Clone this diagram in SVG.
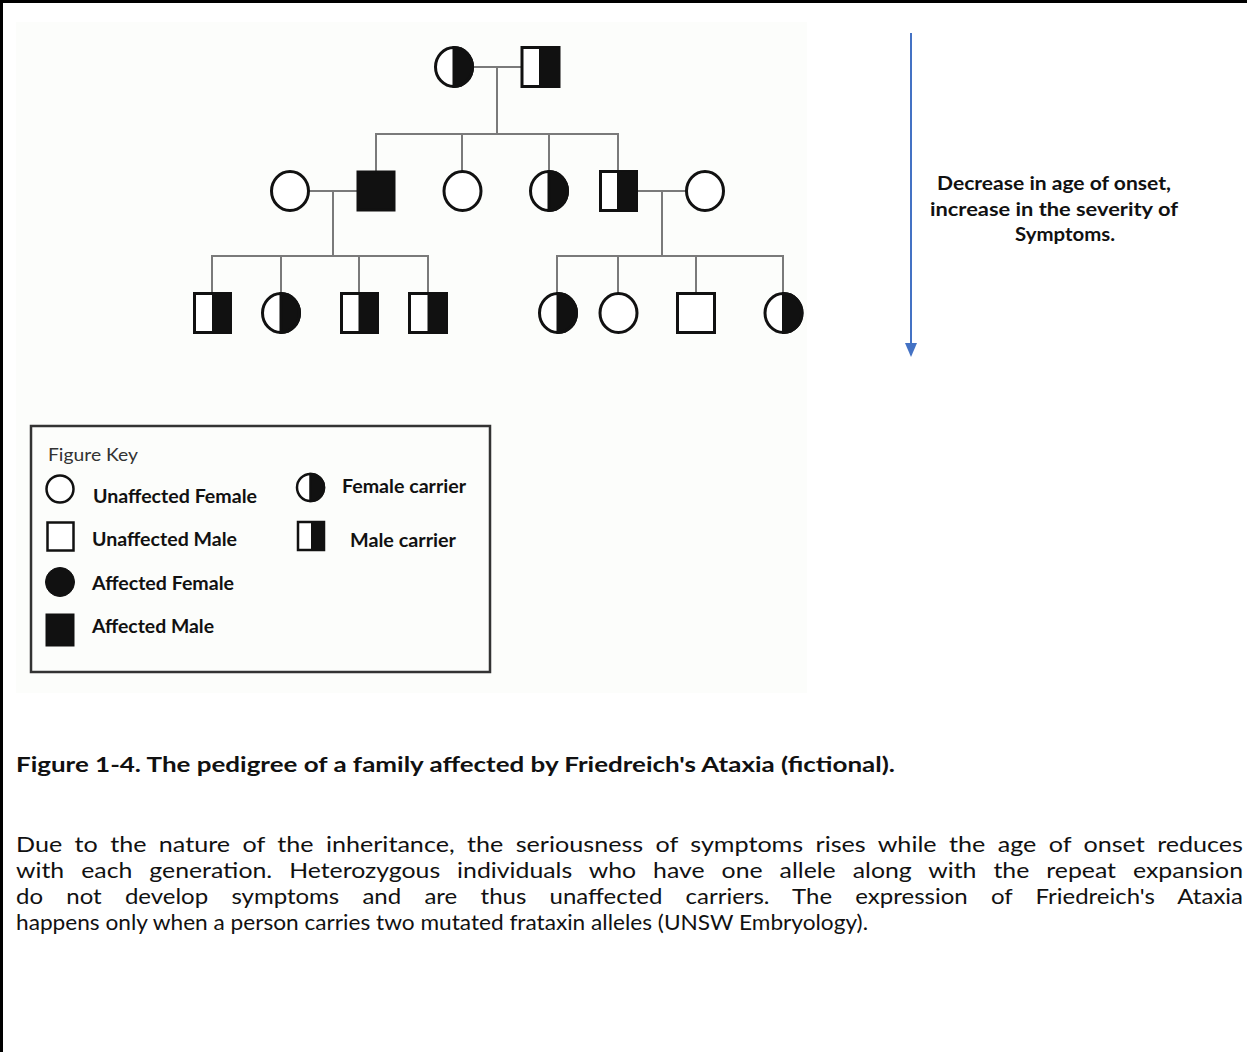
<svg xmlns="http://www.w3.org/2000/svg" width="1247" height="1052" viewBox="0 0 1247 1052">
<style>
.ln{stroke:#7a7a7a;stroke-width:2;fill:none}
.sh{stroke:#111;stroke-width:3;fill:#fff}
.ks{stroke:#111;stroke-width:2.5;fill:#fff}
.blk{fill:#111;stroke:#111}
.kt{font-family:Lato,"Liberation Sans",sans-serif;font-weight:bold;font-size:18px;fill:#111}
.cap{font-family:Lato,"Liberation Sans",sans-serif;font-size:21px;fill:#111}
</style>
<rect x="0" y="0" width="1247" height="1052" fill="#fff"/>
<line x1="0" y1="1.5" x2="1247" y2="1.5" stroke="#000" stroke-width="3"/>
<line x1="1.5" y1="0" x2="1.5" y2="1052" stroke="#000" stroke-width="3"/>
<rect x="16" y="22" width="791" height="671" fill="#fcfdfb"/>

<g id="connectors">
<polyline class="ln" points="473,67 522,67"/>
<polyline class="ln" points="497,67 497,134"/>
<polyline class="ln" points="376,171 376,134 618,134 618,171"/>
<polyline class="ln" points="462,134 462,171"/>
<polyline class="ln" points="549,134 549,171"/>
<polyline class="ln" points="309,191 357,191"/>
<polyline class="ln" points="637,191 686,191"/>
<polyline class="ln" points="333,191 333,256"/>
<polyline class="ln" points="662,191 662,256"/>
<polyline class="ln" points="212,293 212,256 428,256 428,293"/>
<polyline class="ln" points="281,256 281,293"/>
<polyline class="ln" points="359,256 359,293"/>
<polyline class="ln" points="557,293 557,256 783,256 783,293"/>
<polyline class="ln" points="618,256 618,293"/>
<polyline class="ln" points="696,256 696,293"/>
</g>

<g id="g1-mother"><ellipse class="sh" cx="454" cy="67" rx="18.5" ry="19.5"/><path class="blk" stroke-width="3" d="M454,47.5 A18.5,19.5 0 0 1 454,86.5 Z"/></g>
<g id="g1-father"><rect class="sh" x="522" y="47.5" width="37" height="39"/><rect class="blk" stroke-width="0" x="539" y="47.5" width="20" height="39"/></g>

<g id="g2-spouse-left"><ellipse class="sh" cx="290" cy="191" rx="18.5" ry="19.5"/></g>
<g id="g2-affected-male"><rect class="blk" stroke-width="3" x="358" y="172" width="36" height="38"/></g>
<g id="g2-unaffected-female"><ellipse class="sh" cx="462.5" cy="191" rx="18.5" ry="19.5"/></g>
<g id="g2-female-carrier"><ellipse class="sh" cx="549" cy="191" rx="18.5" ry="19.5"/><path class="blk" stroke-width="3" d="M549,171.5 A18.5,19.5 0 0 1 549,210.5 Z"/></g>
<g id="g2-male-carrier"><rect class="sh" x="600.5" y="171.5" width="36" height="39"/><rect class="blk" stroke-width="0" x="617" y="171.5" width="19.5" height="39"/></g>
<g id="g2-spouse-right"><ellipse class="sh" cx="705" cy="191" rx="18.5" ry="19.5"/></g>

<g id="g3-male-carrier-1"><rect class="sh" x="194.5" y="293.5" width="36" height="39"/><rect class="blk" stroke-width="0" x="212" y="293.5" width="18.5" height="39"/></g>
<g id="g3-female-carrier-1"><ellipse class="sh" cx="281" cy="313" rx="18.5" ry="19.5"/><path class="blk" stroke-width="3" d="M281,293.5 A18.5,19.5 0 0 1 281,332.5 Z"/></g>
<g id="g3-male-carrier-2"><rect class="sh" x="341.5" y="293.5" width="36" height="39"/><rect class="blk" stroke-width="0" x="358.5" y="293.5" width="19" height="39"/></g>
<g id="g3-male-carrier-3"><rect class="sh" x="409.5" y="293.5" width="37" height="39"/><rect class="blk" stroke-width="0" x="427.5" y="293.5" width="19" height="39"/></g>
<g id="g3-female-carrier-2"><ellipse class="sh" cx="558" cy="313" rx="18.5" ry="19.5"/><path class="blk" stroke-width="3" d="M558,293.5 A18.5,19.5 0 0 1 558,332.5 Z"/></g>
<g id="g3-unaffected-female"><ellipse class="sh" cx="618.5" cy="313" rx="18.5" ry="19.5"/></g>
<g id="g3-unaffected-male"><rect class="sh" x="677.5" y="293.5" width="37" height="39"/></g>
<g id="g3-female-carrier-3"><ellipse class="sh" cx="783.5" cy="313" rx="18.5" ry="19.5"/><path class="blk" stroke-width="3" d="M783.5,293.5 A18.5,19.5 0 0 1 783.5,332.5 Z"/></g>

<g id="trend-arrow">
<line x1="911" y1="33" x2="911" y2="345" stroke="#4472C4" stroke-width="2"/>
<polygon points="905,343 917,343 911,357" fill="#4472C4"/>
</g>
<g id="trend-label" class="kt" text-anchor="middle">
<text x="1054" y="190" textLength="234" lengthAdjust="spacingAndGlyphs">Decrease in age of onset,</text>
<text x="1054" y="216" textLength="248" lengthAdjust="spacingAndGlyphs">increase in the severity of</text>
<text x="1065" y="241" textLength="100" lengthAdjust="spacingAndGlyphs">Symptoms.</text>
</g>

<g id="key">
<rect x="31" y="426" width="459" height="246" fill="none" stroke="#333" stroke-width="2.5"/>
<text x="48" y="461" font-family="Lato,'Liberation Sans',sans-serif" font-size="17" fill="#333" textLength="90" lengthAdjust="spacingAndGlyphs">Figure Key</text>
<circle class="ks" cx="60" cy="489" r="13.5"/>
<text class="kt" x="93" y="503" textLength="164" lengthAdjust="spacingAndGlyphs">Unaffected Female</text>
<rect class="ks" x="47.5" y="522.5" width="26" height="28"/>
<text class="kt" x="92" y="546" textLength="145" lengthAdjust="spacingAndGlyphs">Unaffected Male</text>
<circle class="blk" cx="60" cy="582" r="14.5"/>
<text class="kt" x="92" y="590" textLength="142" lengthAdjust="spacingAndGlyphs">Affected Female</text>
<rect class="blk" x="46" y="614" width="28" height="32"/>
<text class="kt" x="92" y="633" textLength="122" lengthAdjust="spacingAndGlyphs">Affected Male</text>
<circle class="ks" cx="310.5" cy="487.5" r="13.5"/>
<path class="blk" stroke-width="2.5" d="M310.5,474 A13.5,13.5 0 0 1 310.5,501 Z"/>
<text class="kt" x="342" y="493" textLength="124" lengthAdjust="spacingAndGlyphs">Female carrier</text>
<rect class="ks" x="298" y="522" width="26" height="28"/>
<rect class="blk" stroke-width="0" x="311" y="522" width="13" height="28"/>
<text class="kt" x="350" y="547" textLength="106" lengthAdjust="spacingAndGlyphs">Male carrier</text>
</g>

<g id="caption">
<text class="cap" x="16" y="772" font-weight="bold" textLength="879" lengthAdjust="spacingAndGlyphs">Figure 1-4. The pedigree of a family affected by Friedreich's Ataxia (fictional).</text>
<text class="cap" x="16" y="852" word-spacing="5" textLength="1227" lengthAdjust="spacingAndGlyphs">Due to the nature of the inheritance, the seriousness of symptoms rises while the age of onset reduces</text>
<text class="cap" x="16" y="878" word-spacing="9" textLength="1227" lengthAdjust="spacingAndGlyphs">with each generation. Heterozygous individuals who have one allele along with the repeat expansion</text>
<text class="cap" x="16" y="904" word-spacing="15" textLength="1227" lengthAdjust="spacingAndGlyphs">do not develop symptoms and are thus unaffected carriers. The expression of Friedreich's Ataxia</text>
<text class="cap" x="16" y="930" textLength="852" lengthAdjust="spacingAndGlyphs">happens only when a person carries two mutated frataxin alleles (UNSW Embryology).</text>
</g>
</svg>
